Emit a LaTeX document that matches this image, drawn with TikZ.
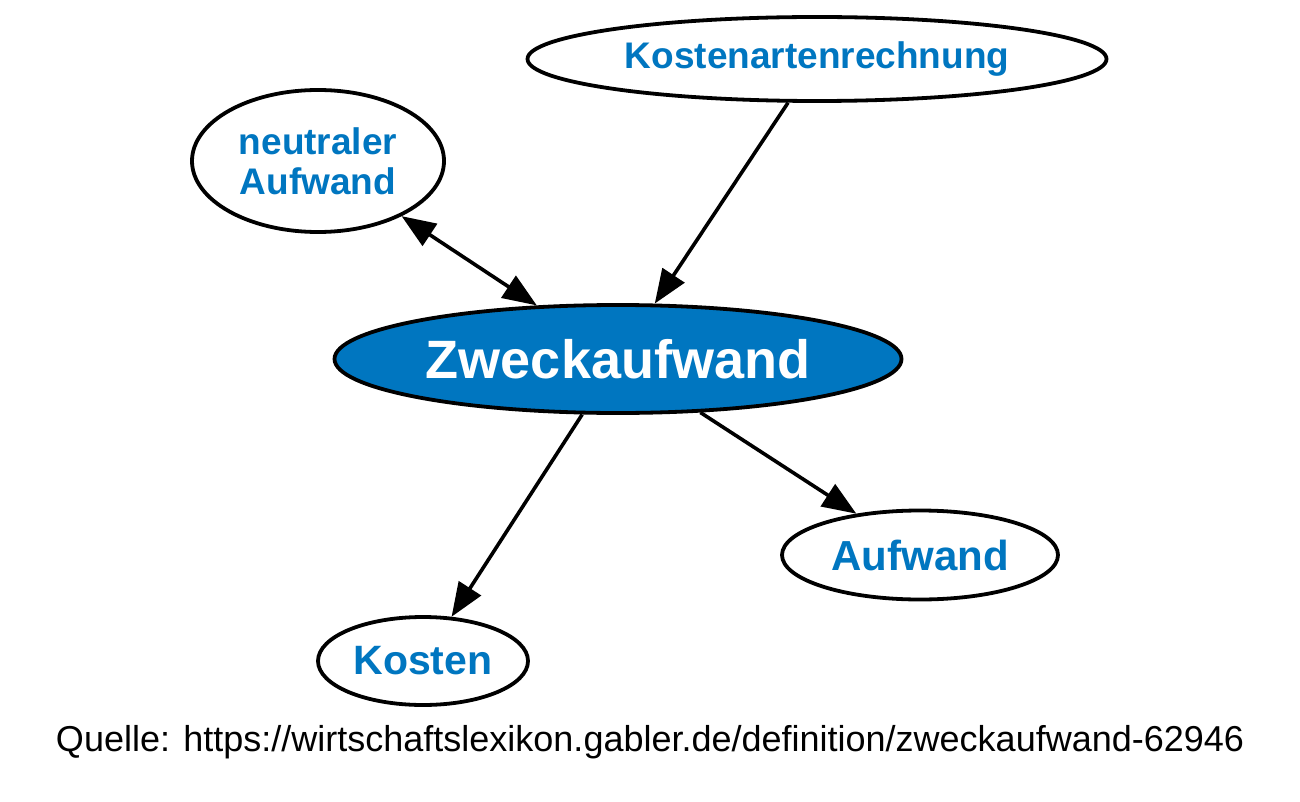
\documentclass[tikz,border=0pt]{standalone}
\usepackage{fontspec}
\setmainfont{Liberation Sans}
\usepackage{xcolor}
\usepackage{tikz}
\usetikzlibrary{shapes.geometric,arrows.meta}
\definecolor{gblue}{HTML}{0076C0}
\definecolor{edge}{HTML}{000000}
\tikzset{
  ell/.style={ellipse, draw=edge, line width=1.9pt, fill=white, inner sep=0pt,
    text=gblue, font=\bfseries, align=center},
  hub/.style={ell, fill=gblue, text=white},
  con/.style={draw=edge, line width=1.8pt, -{Triangle[length=17pt,width=13pt]}},
  bicon/.style={con, {Triangle[length=17pt,width=13pt]}-{Triangle[length=17pt,width=13pt]}},
  src/.style={text=black, font=\fontsize{18}{21}\selectfont, inner sep=0pt}
}

\begin{document}
\begin{tikzpicture}[x=0.5pt, y=-0.5pt]
\useasboundingbox (0,0) rectangle (1300,802);
% sizes of the ellipses are in pt (half a pixel of the picture)
\node[ell, minimum width=289.5pt, minimum height=42pt, font=\bfseries\fontsize{18.5}{20}\selectfont] (kar) at (817,59) {Kostenartenrechnung};
\node[ell, minimum width=126pt, minimum height=71pt, font=\bfseries\fontsize{18.5}{20}\selectfont] (neu) at (318,161) {neutraler\\Aufwand};
\node[hub, minimum width=283.5pt, minimum height=54pt, font=\bfseries\fontsize{27}{30}\selectfont] (zweck) at (618,359) {Zweckaufwand};
\node[ell, minimum width=138pt, minimum height=44.5pt, font=\bfseries\fontsize{21}{22}\selectfont] (aufw) at (920,555) {Aufwand};
\node[ell, minimum width=105pt, minimum height=44pt, font=\bfseries\fontsize{20.5}{22}\selectfont] (kost) at (423,661) {Kosten};

\draw[con] (kar) -- (zweck);
\draw[bicon] (neu) -- (zweck);
\draw[con] (zweck) -- (kost);
\draw[con] (zweck) -- (aufw);

\node[src] (quelle) at (650,742) {Quelle: https://wirtschaftslexikon.gabler.de/definition/zweckaufwand-62946};
\end{tikzpicture}
\end{document}
